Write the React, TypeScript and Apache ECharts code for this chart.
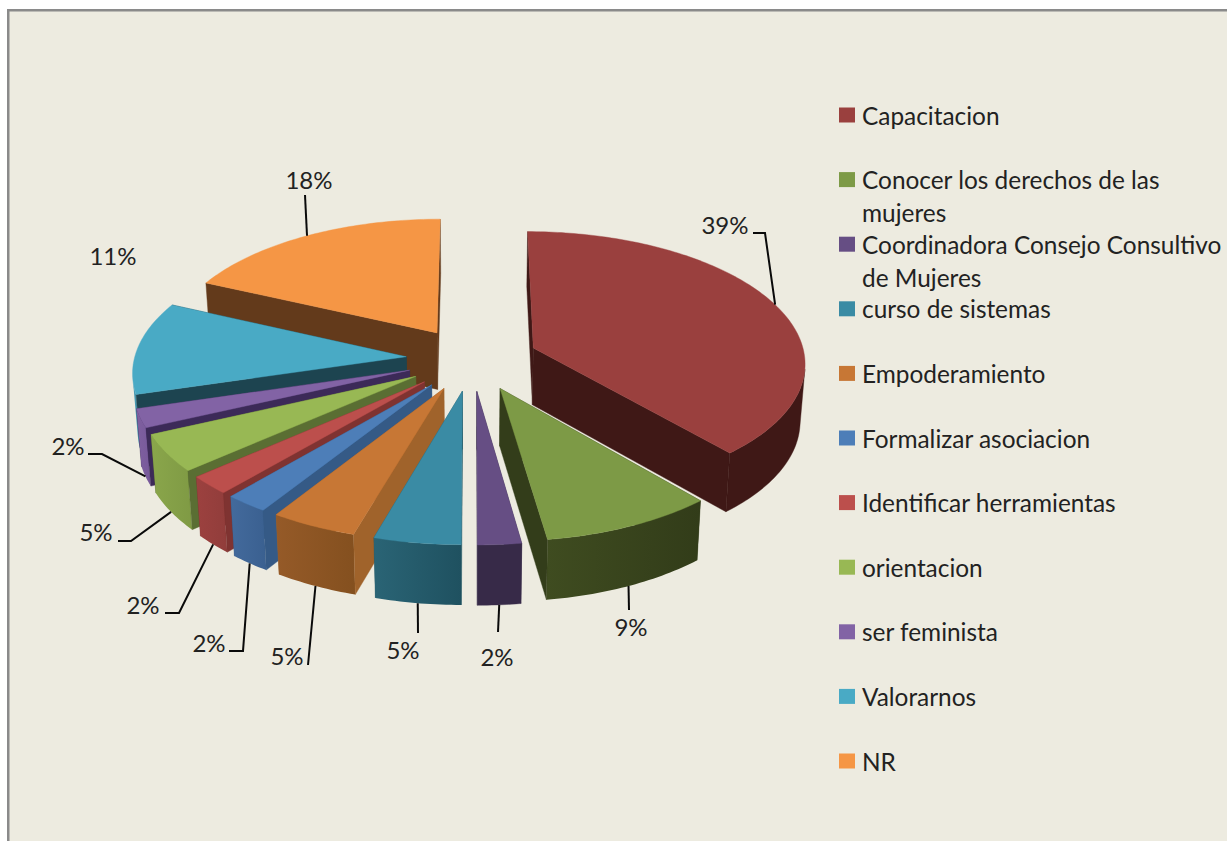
import React, { useEffect, useRef } from "react";
import * as echarts from "echarts";

const categories = [
  "Capacitacion",
  "Conocer los derechos de las mujeres",
  "Coordinadora Consejo Consultivo de Mujeres",
  "curso de sistemas",
  "Empoderamiento",
  "Formalizar asociacion",
  "Identificar herramientas",
  "orientacion",
  "ser feminista",
  "Valorarnos",
  "NR",
];
const values = [17, 4, 1, 2, 2, 1, 1, 2, 1, 5, 8];

const legendLines: Record<string, string> = {
  "Conocer los derechos de las mujeres": "\nConocer los derechos de las\nmujeres",
  "Coordinadora Consejo Consultivo de Mujeres": "\nCoordinadora Consejo Consultivo\nde Mujeres",
};

const topColors = ["#9A403E", "#7D9A46", "#664E84", "#3A8BA4", "#C77735", "#4D7EB8", "#BC4F4C", "#98B854", "#8263A5", "#49AAC5", "#F59645"];
const cutColors = ["#3F1816", "#333D1A", "#372A48", "#215663", "#A0632B", "#355A86", "#7F3331", "#5A6E33", "#3C2A58", "#1D4450", "#633A1B"];
const outerFrom = ["#3F1816", "#3F4C20", "#372A48", "#2A6475", "#955A28", "#436A9C", "#9C413F", "#8AA64B", "#7F60A0", "#4A9DB6", "#633A1B"];
const outerTo = ["#3F1816", "#323C19", "#372A48", "#1F5160", "#84501F", "#3A6090", "#913D3B", "#7F9A44", "#77599A", "#4492AB", "#633A1B"];

// Label layout: label centre, then the elbows of the leader line (none = no leader)
const labelCentres = [[725, 224], [631, 626], [497, 656], [403, 649], [287, 655], [209, 642], [143, 604], [96, 531], [68, 445], [113, 255], [309, 179]];
const leaderElbows = [
  [[765, 233], [753, 233]],
  [[629, 610]],
  [[498, 632]],
  [[418, 633]],
  [[308, 665]],
  [[243, 651], [229, 651]],
  [[179, 613], [165, 613]],
  [[131, 541], [118, 541]],
  [[102, 454], [88, 454]],
  [],
  [[305, 195]],
];

// Projection of the tilted, exploded pie
const CX = 472, CY = 359, R = 272, EXPLODE = 66, TILT = 0.48, PERSP = 0.103, DEPTH = 57;
const FONT = "Lato";
const TOTAL = values.reduce((a, b) => a + b, 0);
const DEG = Math.PI / 180;

function project(X: number, Y: number) {
  const s = 1 / (1 + (PERSP * Y) / R);
  return { x: CX + X * s, y: CY - TILT * Y * s, s };
}
function topPt(ax: number, ay: number, a: number, r: number) {
  const p = project(ax + r * Math.sin(a), ay + r * Math.cos(a));
  return [p.x, p.y];
}
function botPt(ax: number, ay: number, a: number, r: number) {
  const p = project(ax + r * Math.sin(a), ay + r * Math.cos(a));
  return [CX + (p.x - CX) * 0.985, p.y + DEPTH * (1 + (p.s - 1) * 0.4)];
}

function renderSlice(i: number) {
  return (_params: any, api: any) => {
    const v = api.value(0);
    let before = 0;
    for (let k = 0; k < i; k++) before += values[k];
    const a0 = (before / TOTAL) * 360 * DEG;
    const a1 = ((before + v) / TOTAL) * 360 * DEG;
    const mid = (a0 + a1) / 2;
    const ax = EXPLODE * Math.sin(mid);
    const ay = EXPLODE * Math.cos(mid);
    const n = Math.max(6, Math.ceil((a1 - a0) / DEG));
    const anglesList: number[] = [];
    for (let k = 0; k <= n; k++) anglesList.push(a0 + ((a1 - a0) * k) / n);
    const topRim = anglesList.map((a) => topPt(ax, ay, a, R));
    const botRim = anglesList.map((a) => botPt(ax, ay, a, R));
    const apexT = topPt(ax, ay, 0, 0);
    const apexB = botPt(ax, ay, 0, 0);
    const base = Math.round((1 - Math.cos(mid)) * 1000) * 5;
    const wall = (a: number) => [apexT, topPt(ax, ay, a, R), botPt(ax, ay, a, R), apexB];
    const rightHalf = mid < Math.PI;
    const poly = (points: number[][], fill: any, z2: number) => ({
      type: "polygon",
      silent: true,
      z2,
      shape: { points },
      style: { fill, stroke: typeof fill === "string" ? fill : "none", lineWidth: 0.4 },
    });
    // Outer wall: only the rim steps that face the viewer, as one shape
    const frontTop: number[][] = [];
    const frontBot: number[][] = [];
    for (let k = 0; k < n; k++) {
      const dx = topRim[k + 1][0] - topRim[k][0];
      const dy = topRim[k + 1][1] - topRim[k][1];
      const vx = botRim[k][0] - topRim[k][0];
      const vy = botRim[k][1] - topRim[k][1];
      if (dx * vy - dy * vx < 0) {
        if (!frontTop.length) {
          frontTop.push(topRim[k]);
          frontBot.push(botRim[k]);
        }
        frontTop.push(topRim[k + 1]);
        frontBot.push(botRim[k + 1]);
      }
    }
    const children: any[] = [poly(wall(rightHalf ? a0 : a1), cutColors[i], base)];
    if (frontTop.length) {
      const outerFill =
        outerFrom[i] === outerTo[i]
          ? outerFrom[i]
          : new echarts.graphic.LinearGradient(0, 0, 1, 0, [
              { offset: 0, color: outerFrom[i] },
              { offset: 1, color: outerTo[i] },
            ]);
      children.push(poly(frontTop.concat(frontBot.reverse()), outerFill, base + 1));
    }
    children.push(poly(wall(rightHalf ? a1 : a0), cutColors[i], base + 2));
    children.push(poly([apexT].concat(topRim), topColors[i], base + 3));
    const useTop = Math.cos(mid) > 0.2;
    const anchor = useTop ? topPt(ax, ay, mid, R) : botPt(ax, ay, mid, R);
    if (leaderElbows[i].length) {
      children.push({
        type: "polyline",
        silent: true,
        z2: 100000,
        shape: { points: [anchor].concat(leaderElbows[i]) },
        style: { stroke: "#0a0a0a", lineWidth: 2, fill: "none" },
      });
    }
    children.push({
      type: "text",
      silent: true,
      z2: 100001,
      style: {
        text: Math.round((v / TOTAL) * 100) + "%",
        x: labelCentres[i][0],
        y: labelCentres[i][1],
        align: "center",
        verticalAlign: "middle",
        fill: "#222222",
        font: `24px ${FONT}`,
      },
    });
    return { type: "group", children };
  };
}

export default function App() {
  const ref = useRef<HTMLDivElement>(null);
  useEffect(() => {
    document.body.style.margin = "0";
    document.body.style.background = "#ffffff";
    const chart = echarts.init(ref.current!, undefined, { renderer: "svg" });
    chart.setOption({
      animation: false,
      backgroundColor: "#ffffff",
      graphic: [
        {
          type: "rect",
          silent: true,
          z: -10,
          shape: { x: 8.25, y: 10.25, width: 1400, height: 1000 },
          style: { fill: "#EDEBE0", stroke: "#8A8A8A", lineWidth: 2.5 },
        },
      ],
      legend: categories.map((name, i) => {
        const lines = legendLines[name] ? 3 : 1;
        return {
          data: [name],
          left: 839,
          top: 115 + i * 64.6 - (lines * 33) / 2,
          padding: 0,
          orient: "vertical",
          icon: "rect",
          itemWidth: 16,
          itemHeight: 15,
          selectedMode: false,
          formatter: (n: string) => legendLines[n] || n,
          textStyle: { fontFamily: FONT, fontSize: 24.4, lineHeight: 33, color: "#222222", padding: [0, 0, 0, 2] },
        };
      }),
      series: categories.map((name, i) => ({
        type: "custom",
        name,
        coordinateSystem: "none",
        itemStyle: { color: topColors[i] },
        data: [[values[i]]],
        renderItem: renderSlice(i),
      })),
    });
    return () => chart.dispose();
  }, []);
  return <div ref={ref} style={{ width: 1227, height: 841 }} />;
}
